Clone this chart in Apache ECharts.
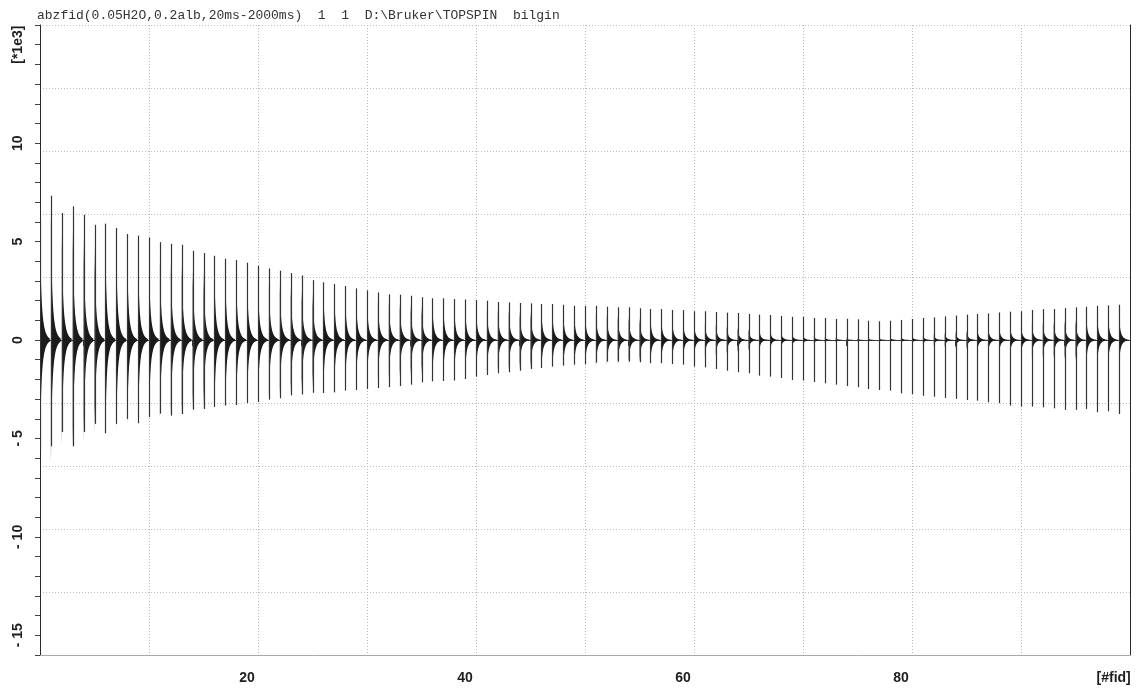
<!DOCTYPE html>
<html>
<head>
<meta charset="utf-8">
<title>abzfid</title>
<script src="https://cdn.jsdelivr.net/npm/echarts@6/dist/echarts.min.js"></script>
<style>
  html, body { margin: 0; padding: 0; background: #ffffff; }
  #chart { width: 1136px; height: 689px; }
</style>
</head>
<body>
<div id="chart"></div>
<script>
// FID number of each acquisition in the concatenated series
const fidNumbers = [
   1,  2,  3,  4,  5,  6,  7,  8,  9, 10, 11, 12, 13, 14, 15, 16, 17, 18, 19, 20,
  21, 22, 23, 24, 25, 26, 27, 28, 29, 30, 31, 32, 33, 34, 35, 36, 37, 38, 39, 40,
  41, 42, 43, 44, 45, 46, 47, 48, 49, 50, 51, 52, 53, 54, 55, 56, 57, 58, 59, 60,
  61, 62, 63, 64, 65, 66, 67, 68, 69, 70, 71, 72, 73, 74, 75, 76, 77, 78, 79, 80,
  81, 82, 83, 84, 85, 86, 87, 88, 89, 90, 91, 92, 93, 94, 95, 96, 97, 98, 99, 100
];

// Largest positive point of each FID (*1e3)
const fidMax = [
  6.20, 7.33, 6.45, 6.79, 6.36, 5.85, 5.91, 5.69, 5.38, 5.30, 5.21, 4.97, 4.89, 4.84, 4.53, 4.42, 4.28, 4.13, 4.06, 3.93,
  3.77, 3.64, 3.52, 3.40, 3.28, 3.04, 2.93, 2.84, 2.74, 2.62, 2.52, 2.42, 2.32, 2.30, 2.25, 2.17, 2.12, 2.12, 2.08, 2.06,
  2.03, 2.00, 1.93, 1.91, 1.88, 1.86, 1.83, 1.83, 1.79, 1.74, 1.73, 1.74, 1.69, 1.66, 1.66, 1.61, 1.57, 1.57, 1.52, 1.52,
  1.46, 1.46, 1.42, 1.39, 1.37, 1.32, 1.29, 1.27, 1.22, 1.18, 1.18, 1.12, 1.12, 1.07, 1.08, 1.05, 0.98, 0.95, 0.98, 1.02,
  1.07, 1.12, 1.15, 1.20, 1.24, 1.29, 1.32, 1.35, 1.40, 1.44, 1.46, 1.52, 1.57, 1.57, 1.62, 1.66, 1.69, 1.74, 1.76, 1.79
];

// Largest negative point of each FID (*1e3)
const fidMin = [
  -5.60, -5.40, -4.67, -5.40, -4.67, -4.26, -4.74, -4.26, -4.01, -4.23, -3.91, -3.74, -3.84, -3.76, -3.54, -3.50, -3.40, -3.33, -3.30, -3.20,
  -3.15, -3.03, -2.96, -2.81, -2.77, -2.68, -2.69, -2.66, -2.57, -2.54, -2.49, -2.44, -2.39, -2.34, -2.27, -2.15, -2.10, -2.08, -2.06, -1.98,
  -1.86, -1.78, -1.69, -1.64, -1.56, -1.47, -1.42, -1.35, -1.30, -1.25, -1.22, -1.15, -1.10, -1.10, -1.10, -1.13, -1.18, -1.18, -1.22, -1.25,
  -1.35, -1.39, -1.47, -1.56, -1.64, -1.69, -1.81, -1.86, -1.93, -2.03, -2.06, -2.13, -2.20, -2.27, -2.34, -2.40, -2.49, -2.54, -2.57, -2.71,
  -2.74, -2.83, -2.88, -2.94, -2.99, -3.05, -3.08, -3.16, -3.21, -3.33, -3.38, -3.38, -3.42, -3.47, -3.55, -3.55, -3.50, -3.67, -3.62, -3.76
];

// Amplitude of the decaying signal envelope at the start of each FID (*1e3)
const fidSignal = [
  6.0, 6.3, 5.4, 5.6, 5.2, 4.8, 4.8, 4.6, 4.4, 4.3, 4.2, 4.0, 3.9, 3.9, 3.6, 3.5, 3.4, 3.3, 3.2, 3.1,
  3.0, 2.9, 2.8, 2.7, 2.6, 2.45, 2.4, 2.3, 2.2, 2.1, 2.05, 2.0, 1.95, 1.9, 1.85, 1.8, 1.75, 1.75, 1.7, 1.7,
  1.65, 1.6, 1.55, 1.55, 1.5, 1.5, 1.45, 1.45, 1.4, 1.4, 1.4, 1.35, 1.3, 1.25, 1.2, 1.15, 1.1, 1.05, 1.0, 0.95,
  0.9, 0.85, 0.8, 0.72, 0.65, 0.58, 0.5, 0.45, 0.38, 0.32, 0.26, 0.2, 0.15, 0.12, 0.1, 0.08, 0.08, 0.1, 0.12, 0.16,
  0.2, 0.25, 0.3, 0.36, 0.42, 0.48, 0.55, 0.6, 0.66, 0.72, 0.78, 0.84, 0.9, 0.95, 1.0, 1.06, 1.1, 1.16, 1.2, 1.25
];

// Axis label values
const xLabelValues = [20, 40, 60, 80];
const xTickValues = [5, 10, 15, 20, 25, 30, 35, 40, 45, 50, 55, 60, 65, 70, 75, 80, 85, 90, 95, 100];
const yLabelValues = [-15, -10, -5, 0, 5, 10];
const yTickValues = [-16, -15, -14, -13, -12, -11, -10, -9, -8, -7, -6, -5, -4, -3, -2, -1, 0,
                      1, 2, 3, 4, 5, 6, 7, 8, 9, 10, 11, 12, 13, 14, 15, 16];
const xUnitLabel = '[#fid]';
const yUnitLabel = '[*1e3]';
const headerText = 'abzfid(0.05H2O,0.2alb,20ms-2000ms)  1  1  D:\\Bruker\\TOPSPIN  bilgin';

// Sample offsets (in FID units) used to trace the envelope outline of one FID
const envelopeSteps = [0, 0.015, 0.03, 0.05, 0.08, 0.12, 0.17, 0.23, 0.3, 0.4, 0.5, 0.62, 0.75, 0.9];
function envelopeAt(s, t) {
  return s * (0.45 * Math.exp(-t / 0.07) + 0.55 * Math.exp(-t / 0.24));
}

const fidData = fidNumbers.map((k, i) => [k, fidMax[i], fidMin[i], fidSignal[i]]);

const chart = echarts.init(document.getElementById('chart'), null, { renderer: 'canvas' });

const labelFont = {
  fontFamily: 'Liberation Sans, Arial, sans-serif',
  fontWeight: 'bold',
  fontSize: 14,
  color: '#1e1e1e'
};

const gridLine = { show: true, lineStyle: { type: [1, 2], color: '#bcbcbc', width: 1 } };

chart.setOption({
  animation: false,
  backgroundColor: '#ffffff',
  title: {
    text: headerText,
    left: 32,
    top: 4,
    textStyle: {
      fontFamily: 'Liberation Mono, Courier New, monospace',
      fontSize: 13,
      fontWeight: 'normal',
      color: '#333333'
    }
  },
  grid: { left: 40, right: 6, top: 25, bottom: 34 },
  xAxis: [
    {
      type: 'value',
      min: 1,
      max: 101,
      position: 'bottom',
      axisLine: { show: true, lineStyle: { color: '#2a2a2a', width: 1 } },
      axisTick: { show: true, customValues: xTickValues, length: 6, lineStyle: { color: '#444' } },
      axisLabel: Object.assign({
        customValues: xLabelValues.concat([99.5]),
        margin: 16,
        formatter: v => (v === 99.5 ? xUnitLabel : String(v))
      }, labelFont),
      splitLine: { show: false }
    },
    {
      // 10 x 10 division grid of the display
      type: 'value',
      min: 0,
      max: 10,
      interval: 1,
      position: 'top',
      axisLine: { show: true, lineStyle: { color: '#a8a8a8', width: 1 } },
      axisTick: { show: false },
      axisLabel: { show: false },
      splitLine: gridLine
    }
  ],
  yAxis: [
    {
      type: 'value',
      min: -16,
      max: 16,
      position: 'left',
      axisLine: { show: true, lineStyle: { color: '#2a2a2a', width: 1 } },
      axisTick: { show: true, customValues: yTickValues, length: 5, lineStyle: { color: '#444' } },
      axisLabel: Object.assign({
        customValues: yLabelValues.concat([15]),
        rotate: 90,
        margin: 15,
        formatter: v => (v === 15 ? yUnitLabel : (v < 0 ? '- ' + (-v) : String(v)))
      }, labelFont),
      splitLine: { show: false }
    },
    {
      type: 'value',
      min: 0,
      max: 10,
      interval: 1,
      position: 'right',
      axisLine: { show: true, lineStyle: { color: '#2a2a2a', width: 1 } },
      axisTick: { show: false },
      axisLabel: { show: false },
      splitLine: gridLine
    }
  ],
  series: [
    {
      type: 'custom',
      xAxisIndex: 0,
      yAxisIndex: 0,
      clip: true,
      z: 5,
      data: fidData,
      encode: { x: 0, y: [1, 2] },
      renderItem: function (params, api) {
        const k = api.value(0);
        const hi = api.value(1);
        const lo = api.value(2);
        const s = api.value(3);

        const upper = [];
        const lower = [];
        envelopeSteps.forEach(t => {
          const e = envelopeAt(s, t);
          upper.push(api.coord([k + t, e]));
          lower.unshift(api.coord([k + t, -e]));
        });

        const b0 = api.coord([k, 0]);
        const b1 = api.coord([k + 1, 0]);
        const by = Math.round(b0[1]) + 0.5;
        const top = api.coord([k, hi]);
        const bottom = api.coord([k, lo]);
        const sx = Math.round(top[0]) + 0.5;

        return {
          type: 'group',
          children: [
            {
              type: 'line',
              shape: { x1: b0[0], y1: by, x2: b1[0], y2: by },
              style: { stroke: '#3a3a3a', lineWidth: 1 }
            },
            {
              type: 'polygon',
              shape: { points: upper.concat(lower) },
              style: { fill: '#1a1a1a' }
            },
            {
              type: 'line',
              shape: { x1: sx, y1: top[1], x2: sx, y2: bottom[1] },
              style: { stroke: '#333333', lineWidth: 1.2 }
            }
          ]
        };
      }
    }
  ]
});
</script>
</body>
</html>
